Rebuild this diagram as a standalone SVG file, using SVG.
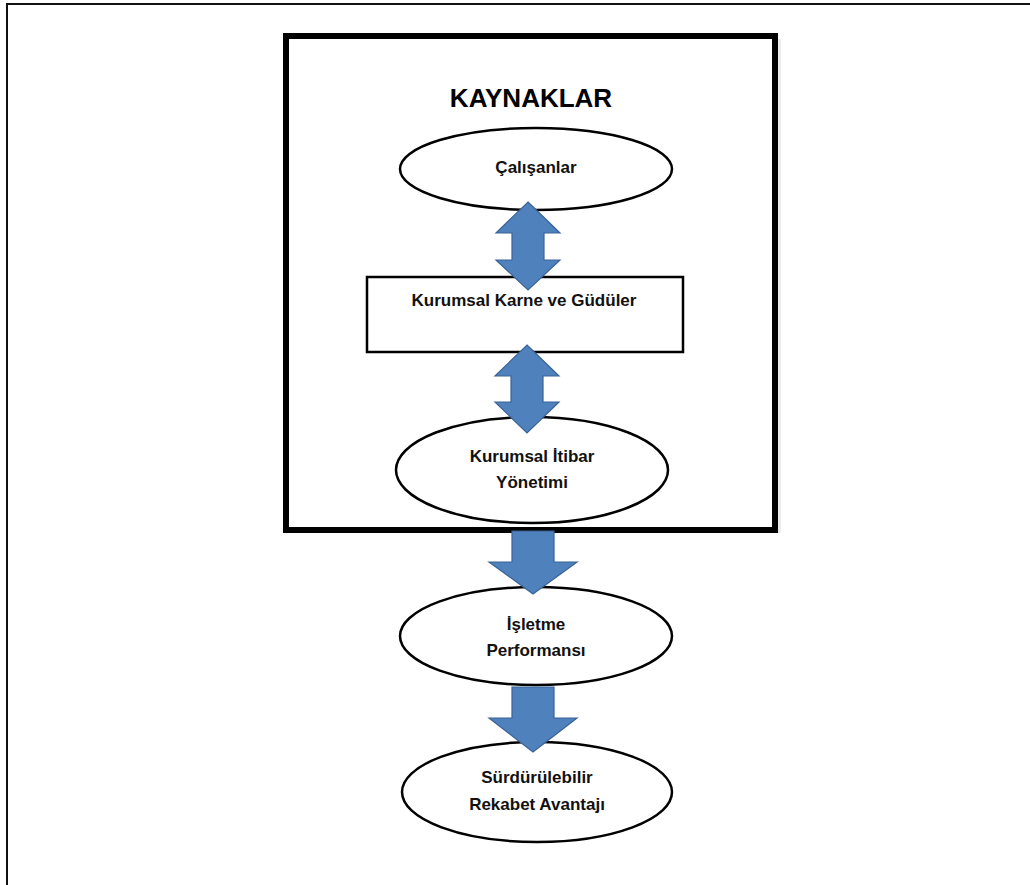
<svg xmlns="http://www.w3.org/2000/svg" width="1030" height="885" viewBox="0 0 1030 885">
<defs>
<style>
.node{fill:#fff;stroke:#000;stroke-width:2.5}
.lbl{font-family:"Liberation Sans",Arial,sans-serif;font-weight:bold;font-size:17px;fill:#111;text-anchor:middle}
.title{font-family:"Liberation Sans",Arial,sans-serif;font-weight:bold;font-size:26px;fill:#000;text-anchor:middle}
.arr{fill:#4F81BD;stroke:#3A6396;stroke-width:1.2}
</style>
</defs>
<rect width="1030" height="885" fill="#fff"/>
<path d="M7 885 V4 H1030" fill="none" stroke="#111" stroke-width="2"/>
<g id="kaynaklar">
<rect x="289" y="39" width="492" height="494" fill="#ddd" opacity="0.6"/>
<rect x="286" y="36" width="489" height="494" fill="#fff" stroke="#000" stroke-width="6"/>
<text class="title" x="531" y="107">KAYNAKLAR</text>
</g>
<g id="calisanlar">
<ellipse class="node" cx="536" cy="169" rx="136" ry="41"/>
<text class="lbl" x="536" y="173">Çalışanlar</text>
</g>
<g id="karne">
<rect class="node" x="367" y="277" width="316" height="75"/>
<text class="lbl" x="524" y="306">Kurumsal Karne ve Güdüler</text>
</g>
<g id="itibar">
<ellipse class="node" cx="532" cy="470" rx="136" ry="53"/>
<text class="lbl" x="532" y="462">Kurumsal İtibar</text>
<text class="lbl" x="532" y="488">Yönetimi</text>
</g>
<g id="performans">
<ellipse class="node" cx="536" cy="636" rx="136" ry="49"/>
<text class="lbl" x="536" y="630">İşletme</text>
<text class="lbl" x="536" y="656">Performansı</text>
</g>
<g id="rekabet">
<ellipse class="node" cx="537" cy="792" rx="135" ry="50"/>
<text class="lbl" x="537" y="783">Sürdürülebilir</text>
<text class="lbl" x="537" y="810">Rekabet Avantajı</text>
</g>
<g id="connectors">
<path class="arr" d="M528 202 L560 233 L544 233 L544 260 L560 260 L528 290 L496 260 L512 260 L512 233 L496 233 Z"/>
<path class="arr" d="M527 345 L559 376 L543 376 L543 402 L559 402 L527 433 L495 402 L511 402 L511 376 L495 376 Z"/>
<path class="arr" d="M512 531 L554 531 L554 562 L577 562 L533 594 L489 562 L512 562 Z"/>
<path class="arr" d="M512 687 L554 687 L554 718 L577 718 L533 752 L489 718 L512 718 Z"/>
</g>
</svg>
